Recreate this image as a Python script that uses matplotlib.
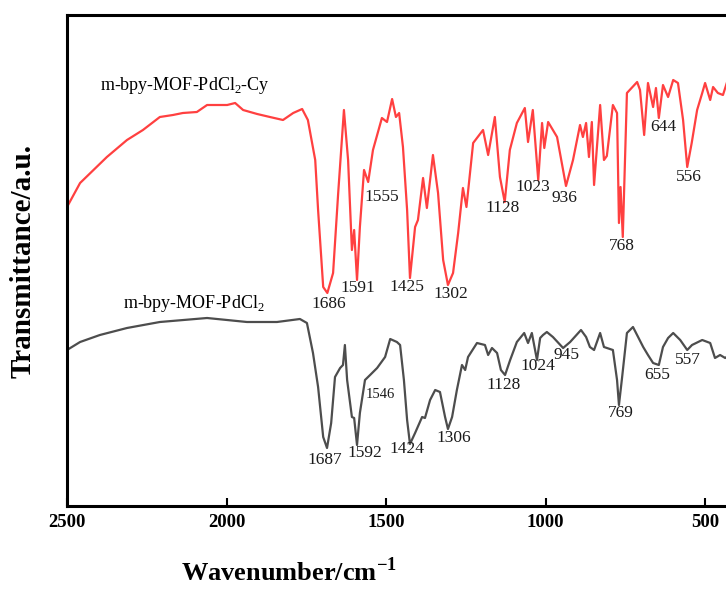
import matplotlib
matplotlib.use("Agg")
import matplotlib.pyplot as plt

plt.rcParams['font.family'] = ['Liberation Serif', 'DejaVu Serif']
plt.rcParams['mathtext.fontset'] = 'custom'
plt.rcParams['mathtext.rm'] = 'Liberation Serif'
plt.rcParams['mathtext.bf'] = 'Liberation Serif:bold'

# spectre m-bpy-MOF-PdCl2-Cy (rouge)
wn_cy = [2500, 2459, 2375, 2312, 2262, 2209, 2168, 2137, 2093, 2061, 1998, 1973, 1948, 1904,
         1864, 1823, 1791, 1763, 1745, 1722, 1713, 1697, 1684, 1666, 1650, 1632, 1619, 1607,
         1600, 1591, 1582, 1569, 1556, 1541, 1513, 1497, 1481, 1469, 1459, 1447, 1434, 1425,
         1409, 1400, 1384, 1372, 1353, 1337, 1321, 1306, 1290, 1274, 1259, 1248, 1227, 1196,
         1180, 1159, 1143, 1128, 1112, 1090, 1065, 1055, 1040, 1023, 1011, 1004, 992, 964,
         936, 914, 892, 883, 873, 864, 855, 848, 829, 817, 808, 789, 776, 770, 765, 758,
         745, 713, 704, 691, 679, 663, 654, 645, 632, 616, 600, 585, 569, 556, 542, 525,
         509, 500, 484, 475, 460, 444, 431, 415, 400]
t_cy = [299, 323, 349, 366, 376, 389, 391, 393, 394, 401, 401, 403, 396, 392,
        389, 386, 393, 397, 386, 346, 296, 219, 213, 233, 313, 396, 346, 256,
        276, 226, 279, 336, 324, 356, 388, 384, 407, 389, 393, 359, 296, 228,
        279, 286, 328, 298, 351, 313, 246, 221, 233, 273, 318, 299, 363, 376,
        351, 389, 329, 304, 356, 383, 398, 364, 396, 326, 383, 358, 384, 369,
        320, 346, 381, 369, 383, 349, 384, 321, 401, 346, 350, 401, 393, 283, 319, 269,
        413, 424, 416, 371, 423, 399, 418, 388, 421, 409, 426, 423, 386, 339, 363, 396,
        413, 423, 406, 419, 413, 411, 424, 415, 420]

# spectre m-bpy-MOF-PdCl2 (gris)
wn_pd = [2500, 2459, 2397, 2312, 2209, 2061, 1936, 1842, 1770, 1748, 1729, 1713, 1697, 1685,
         1672, 1660, 1644, 1635, 1629, 1622, 1607, 1600, 1591, 1582, 1566, 1550, 1528, 1503,
         1487, 1466, 1456, 1444, 1434, 1425, 1409, 1387, 1378, 1362, 1346, 1331, 1315, 1306,
         1293, 1278, 1262, 1252, 1243, 1215, 1190, 1180, 1168, 1152, 1140, 1127, 1111, 1090,
         1067, 1055, 1043, 1027, 1017, 1008, 996, 977, 945, 923, 889, 873, 861, 848, 829, 817,
         789, 776, 770, 760, 745, 726, 710, 694, 679, 663, 645, 632, 616, 600, 578, 556, 541,
         509, 484, 469, 453, 437, 420, 400]
t_pd = [156, 164, 171, 178, 184, 188, 184, 184, 187, 183, 153, 119, 69, 58,
        83, 129, 138, 141, 161, 126, 89, 88, 61, 93, 126, 131, 138, 149,
        167, 164, 161, 126, 86, 62, 73, 89, 88, 106, 116, 114, 89, 77,
        89, 116, 141, 136, 149, 163, 161, 151, 158, 153, 136, 131, 146, 164,
        173, 163, 173, 146, 168, 171, 174, 169, 158, 164, 176, 169, 159, 156, 173, 159,
        156, 126, 101, 129, 173, 179, 169, 159, 151, 143, 141, 159, 168, 173, 166, 156, 161,
        166, 163, 148, 151, 148, 152, 150]

# étiquettes des pics
pics_cy = ["1686", "1591", "1555", "1425", "1302", "1128", "1023", "936", "768", "644", "556"]
pos_cy = [(1679, 202), (1588, 218), (1513, 309), (1434, 219), (1296, 212), (1136, 298),
          (1039, 319), (942, 308), (760, 260), (632, 379), (550, 329)]
pics_pd = ["1687", "1592", "1546", "1424", "1306", "1128", "1024", "945", "769", "655", "557"]
pos_pd = [(1691, 46), (1566, 53), (1519, 112), (1434, 57), (1287, 68), (1133, 121),
          (1024, 140), (933, 151), (763, 93), (650, 131), (553, 146)]

fig = plt.figure(figsize=(7.26, 5.90), dpi=100)
ax = fig.add_axes([67/726, 84/590, 670/726, 491/590])

ax.plot(wn_cy, t_cy, color="#ff4040", lw=1.6)
ax.plot(wn_pd, t_pd, color="#4d4d4d", lw=1.6)

for txt, (x, y) in zip(pics_cy, pos_cy):
    ax.text(x, y, txt, fontsize=12.5, ha="center", va="center", color="#1a1a1a")
for txt, (x, y) in zip(pics_pd, pos_pd):
    taille = 10.5 if txt == "1546" else 12.5
    ax.text(x, y, txt, fontsize=taille, ha="center", va="center", color="#1a1a1a")

ax.text(2397, 421, r"m-bpy-MOF-PdCl$_2$-Cy", fontsize=13, ha="left", va="center")
ax.text(2324, 203, r"m-bpy-MOF-PdCl$_2$", fontsize=13, ha="left", va="center")

ax.set_xlim(2500, 400)
ax.set_ylim(0, 491)
ax.set_xticks([2500, 2000, 1500, 1000, 500])
ax.set_yticks([])
ax.tick_params(axis="x", direction="in", length=6, width=1.5, pad=6, labelsize=13.5)
for lab in ax.get_xticklabels():
    lab.set_fontweight("bold")
for sp in ax.spines.values():
    sp.set_linewidth(2.2)

ax.set_xlabel(r"Wavenumber/cm$^{\mathbf{-1}}$", fontsize=19, fontweight="bold")
ax.xaxis.set_label_coords(0.331, -0.105)
ax.set_ylabel("Transmittance/a.u.", fontsize=21, fontweight="bold")
ax.yaxis.set_label_coords(-0.045, 0.5)

plt.savefig("out.png", dpi=100)
